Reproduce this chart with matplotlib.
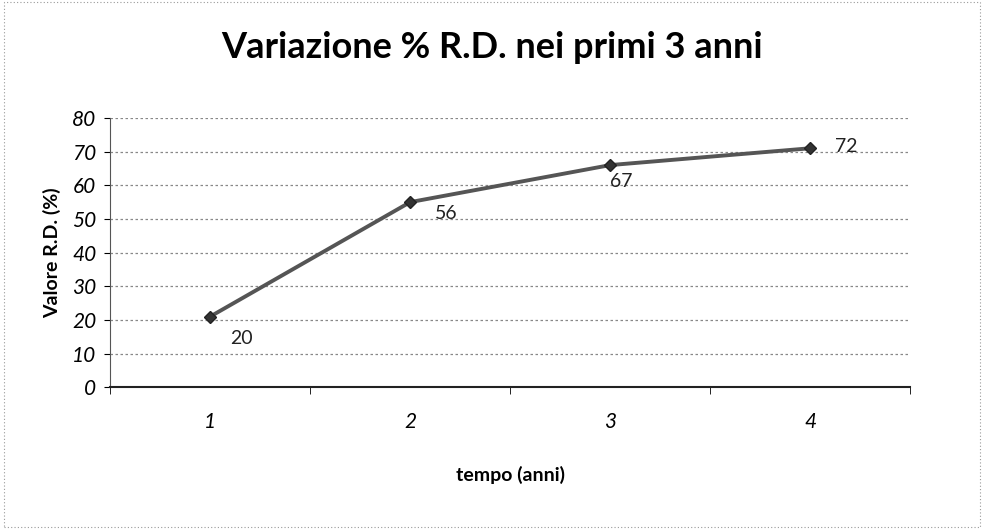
import matplotlib
matplotlib.use('Agg')
import matplotlib.pyplot as plt

plt.rcParams['font.family'] = ['Lato', 'DejaVu Sans']

anni = [1, 2, 3, 4]
valori = [21, 55, 66, 71]
etichette = ['20', '56', '67', '72']
offset_etichette = [(14, -16), (18, -8), (8, -12), (18, 1)]
yticks = [0, 10, 20, 30, 40, 50, 60, 70, 80]

fig = plt.figure(figsize=(9.84, 5.29), dpi=100)
ax = fig.add_axes([0.112, 0.268, 0.813, 0.509])

ax.plot(anni, valori, color='#555555', linewidth=2.8, marker='D', markersize=6,
        markerfacecolor='#333333', markeredgecolor='#222222', zorder=3)

for x, y, t, (dx, dy) in zip(anni, valori, etichette, offset_etichette):
    ax.annotate(t, (x, y), xytext=(dx, dy), textcoords='offset points',
                ha='left' if dx > 10 else 'center', va='center', fontsize=14, color='#222222')

ax.set_xlim(0.5, 4.5)
ax.set_ylim(0, 80)
ax.set_yticks(yticks)
ax.set_xticks(anni)
ax.set_xticks([0.5, 1.5, 2.5, 3.5, 4.5], minor=True)
ax.tick_params(axis='x', which='major', length=0, pad=18)
ax.tick_params(axis='x', which='minor', length=5, direction='out')
ax.tick_params(axis='y', length=4, direction='out', pad=6)
for lab in ax.get_xticklabels() + ax.get_yticklabels():
    lab.set_fontstyle('italic')
    lab.set_fontsize(15)

ax.grid(axis='y', linestyle=(0, (2, 2)), color='#888888', linewidth=0.9)
for s in ['top', 'right']:
    ax.spines[s].set_visible(False)
ax.spines['left'].set_color('#555555')
ax.spines['bottom'].set_color('#222222')
ax.spines['bottom'].set_linewidth(1.5)

ax.set_ylabel('Valore R.D. (%)', fontsize=14, fontweight='bold', labelpad=8)
ax.set_xlabel('tempo (anni)', fontsize=14, fontweight='bold', labelpad=24)
fig.text(0.5, 0.91, 'Variazione % R.D. nei primi 3 anni', ha='center', va='center',
         fontsize=26, fontweight='bold')

# cornice tratteggiata come nello scan
fig.patches.append(plt.Rectangle((0.004, 0.004), 0.992, 0.992, transform=fig.transFigure,
                                 fill=False, linestyle=(0, (1, 2)), edgecolor='#999999', linewidth=0.8))

fig.savefig('out.png', dpi=100)
